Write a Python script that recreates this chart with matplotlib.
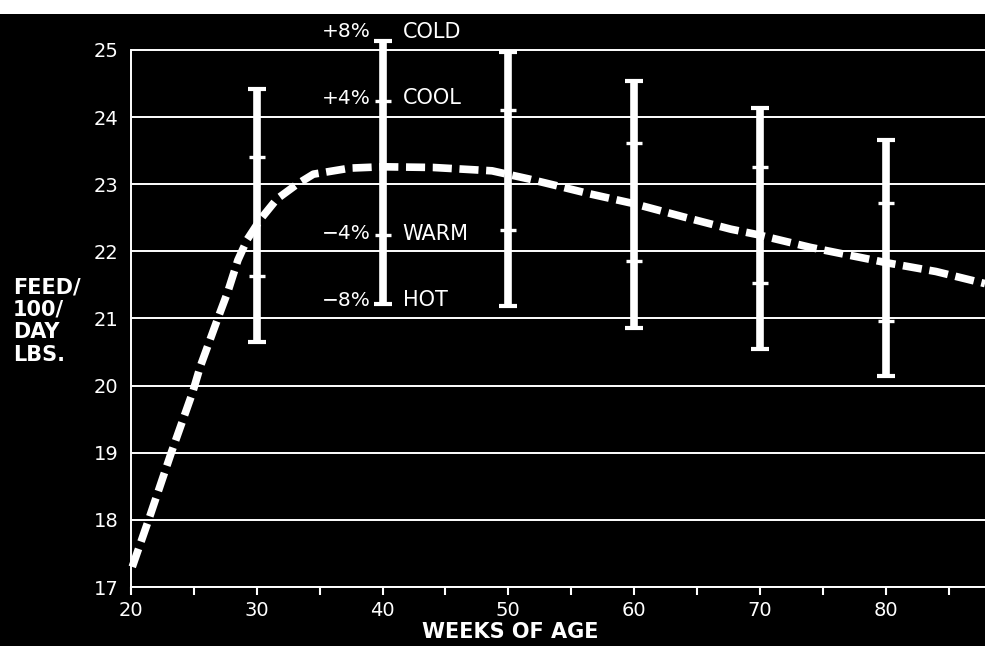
import matplotlib
matplotlib.use("Agg")
import matplotlib.pyplot as plt
from matplotlib.patches import Rectangle

_FIG_SIZE = (9.85, 6.46)
_DPI = 100

# dashed feed curve (weeks, lbs per 100 birds per day)
curve_weeks = [20.1, 21.4, 23.2, 24.9, 25.5, 26.9, 27.7, 28.5, 29.25, 30.3, 31.6,
               33.2, 34.5, 37.4, 40.0, 44.0, 48.7, 51.6, 53.8, 56.4, 60.0, 64.0,
               67.7, 69.8, 74.0, 80.1, 84.0, 87.9]
curve_feed = [17.3, 18.0, 19.0, 19.9, 20.28, 21.0, 21.4, 21.87, 22.18, 22.48, 22.78,
              23.0, 23.15, 23.24, 23.26, 23.25, 23.2, 23.08, 22.98, 22.86, 22.71, 22.51,
              22.33, 22.25, 22.06, 21.83, 21.7, 21.52]

# temperature range bars
bar_weeks = [30, 40, 50, 60, 70, 80]
bar_plus8 = [24.42, 25.14, 24.97, 24.54, 24.14, 23.66]
bar_plus4 = [23.40, 24.24, 24.11, 23.61, 23.26, 22.72]
bar_minus4 = [21.64, 22.24, 22.32, 21.86, 21.53, 20.96]
bar_minus8 = [20.65, 21.21, 21.18, 20.86, 20.54, 20.15]

# labels beside the 40 week bar
pct_labels = ["+8%", "+4%", "\u22124%", "\u22128%"]
temp_labels = ["COLD", "COOL", "WARM", "HOT"]
label_levels = [25.27, 24.28, 22.26, 21.27]

y_ticks = [17, 18, 19, 20, 21, 22, 23, 24, 25]
x_major = [20, 30, 40, 50, 60, 70, 80]
x_minor = [25, 35, 45, 55, 65, 75, 85]


def draw_chart(filename="out.png"):
    fig = plt.figure(figsize=_FIG_SIZE, dpi=_DPI, facecolor="black")
    fig.patches.append(Rectangle((0, 1 - 14 / 646.), 1, 14 / 646., transform=fig.transFigure,
                                 facecolor="white", edgecolor="none", zorder=5))

    ax = fig.add_axes([131 / 985., 0.0913, 1 - 131 / 985., 0.8833])
    ax.set_facecolor("black")
    ax.set_xlim(20, 87.9)
    ax.set_ylim(17, 25.5)

    # horizontal rules
    for y in y_ticks:
        ax.axhline(y, color="white", lw=1.4, zorder=1)

    for side in ("top", "right"):
        ax.spines[side].set_visible(False)
    for side in ("left", "bottom"):
        ax.spines[side].set_color("white")
        ax.spines[side].set_linewidth(1.4)
    ax.spines["left"].set_bounds(17, 25)

    ax.set_yticks(y_ticks)
    ax.set_yticklabels([str(v) for v in y_ticks])
    ax.tick_params(axis="y", length=0, pad=9, labelsize=14, labelcolor="white")

    ax.set_xticks(x_major)
    ax.set_xticks(x_minor, minor=True)
    ax.set_xticklabels([str(v) for v in x_major])
    ax.tick_params(axis="x", which="both", direction="out", length=6, width=1.5,
                   color="white", labelsize=14, labelcolor="white", pad=4)

    # bars
    ax.vlines(bar_weeks, bar_minus8, bar_plus8, color="white", lw=5.5, zorder=3, clip_on=False)
    ax.plot(bar_weeks + bar_weeks, bar_plus8 + bar_minus8, ls="none", marker="_",
            ms=13.5, mew=3, color="white", zorder=3, clip_on=False)
    ax.plot(bar_weeks + bar_weeks, bar_plus4 + bar_minus4, ls="none", marker="_",
            ms=12, mew=2.4, color="white", zorder=3, clip_on=False)

    # feed curve
    ax.plot(curve_weeks, curve_feed, color="white", lw=5.5, dashes=(2.5, 1.0),
            dash_capstyle="butt", zorder=4, clip_on=False)

    for pct, temp, lvl in zip(pct_labels, temp_labels, label_levels):
        ax.text(39.1, lvl, pct, color="white", fontsize=14.5, ha="right", va="center")
        ax.text(41.6, lvl, temp, color="white", fontsize=15, ha="left", va="center")

    fig.text(13 / 985., 1 - 321 / 646., "FEED/\n100/\nDAY\nLBS.", color="white",
             fontsize=15, fontweight="bold", ha="left", va="center", linespacing=1.15)
    fig.text(510 / 985., 1 - 632 / 646., "WEEKS OF AGE", color="white",
             fontsize=15, fontweight="bold", ha="center", va="center")

    fig.savefig(filename, dpi=_DPI, facecolor="black")
    return fig


if __name__ == '__main__':
    draw_chart()
